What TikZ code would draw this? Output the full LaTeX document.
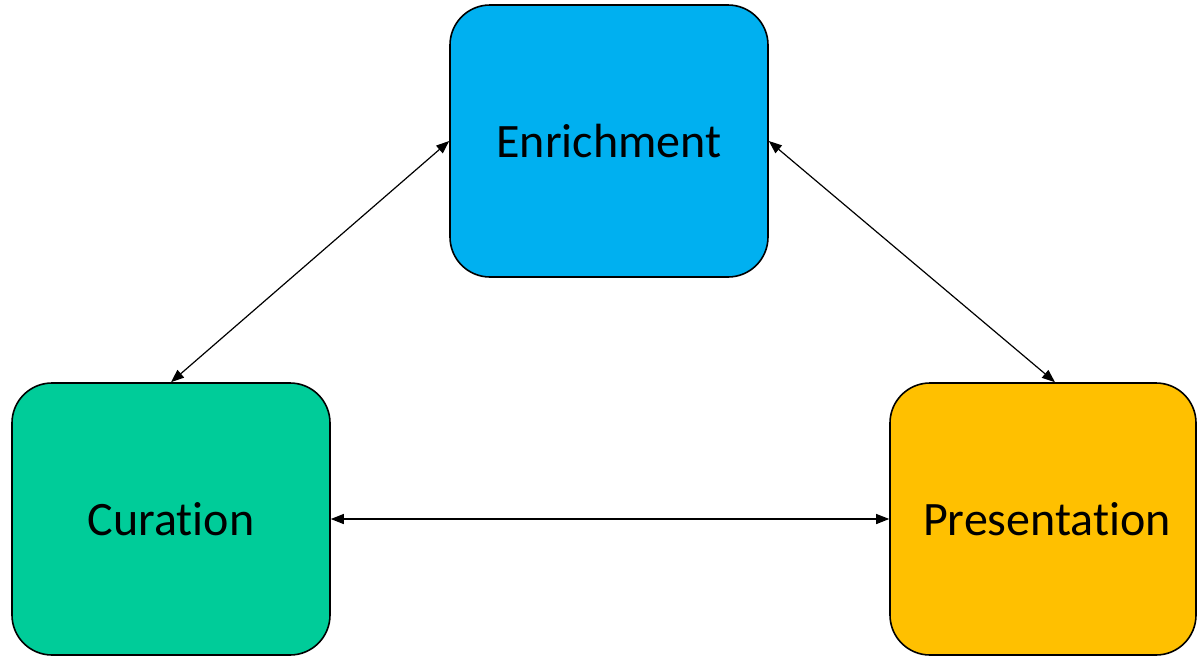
\documentclass[tikz,border=0pt]{standalone}
\usepackage{fontspec}
\setmainfont{Carlito}[Ligatures=NoCommon]
\usepackage{xcolor}
\usetikzlibrary{arrows.meta}

\definecolor{enrichblue}{HTML}{00B0F0}
\definecolor{curagreen}{HTML}{00CC99}
\definecolor{presyellow}{HTML}{FFC000}

\begin{document}
\begin{tikzpicture}[x=1pt,y=-1pt,
	box/.style={draw,line width=1.6pt,rounded corners=40pt,minimum width=318pt,minimum height=272pt,inner sep=0pt,font=\fontsize{48}{56}\selectfont},
	link/.style={line width=1.2pt,{Triangle[length=13pt,width=10pt]}-{Triangle[length=13pt,width=10pt]}}]
	\useasboundingbox (0,0) rectangle (1197,656);
	\node [box,fill=enrichblue] (enrich) at (609,141) {Enrichment};
	\node [box,fill=curagreen] (cura) at (171,519) {Curation};
	\node [box,fill=presyellow,minimum width=306pt] (pres) at (1043,519) {\hspace*{8pt}Presentation};
	
	\draw [link] (enrich.west) -- (cura.north);
	\draw [link] (enrich.east) -- ([xshift=12pt]pres.north);
	\draw [link] (cura.east) -- (pres.west);
	
\end{tikzpicture}
\end{document}
